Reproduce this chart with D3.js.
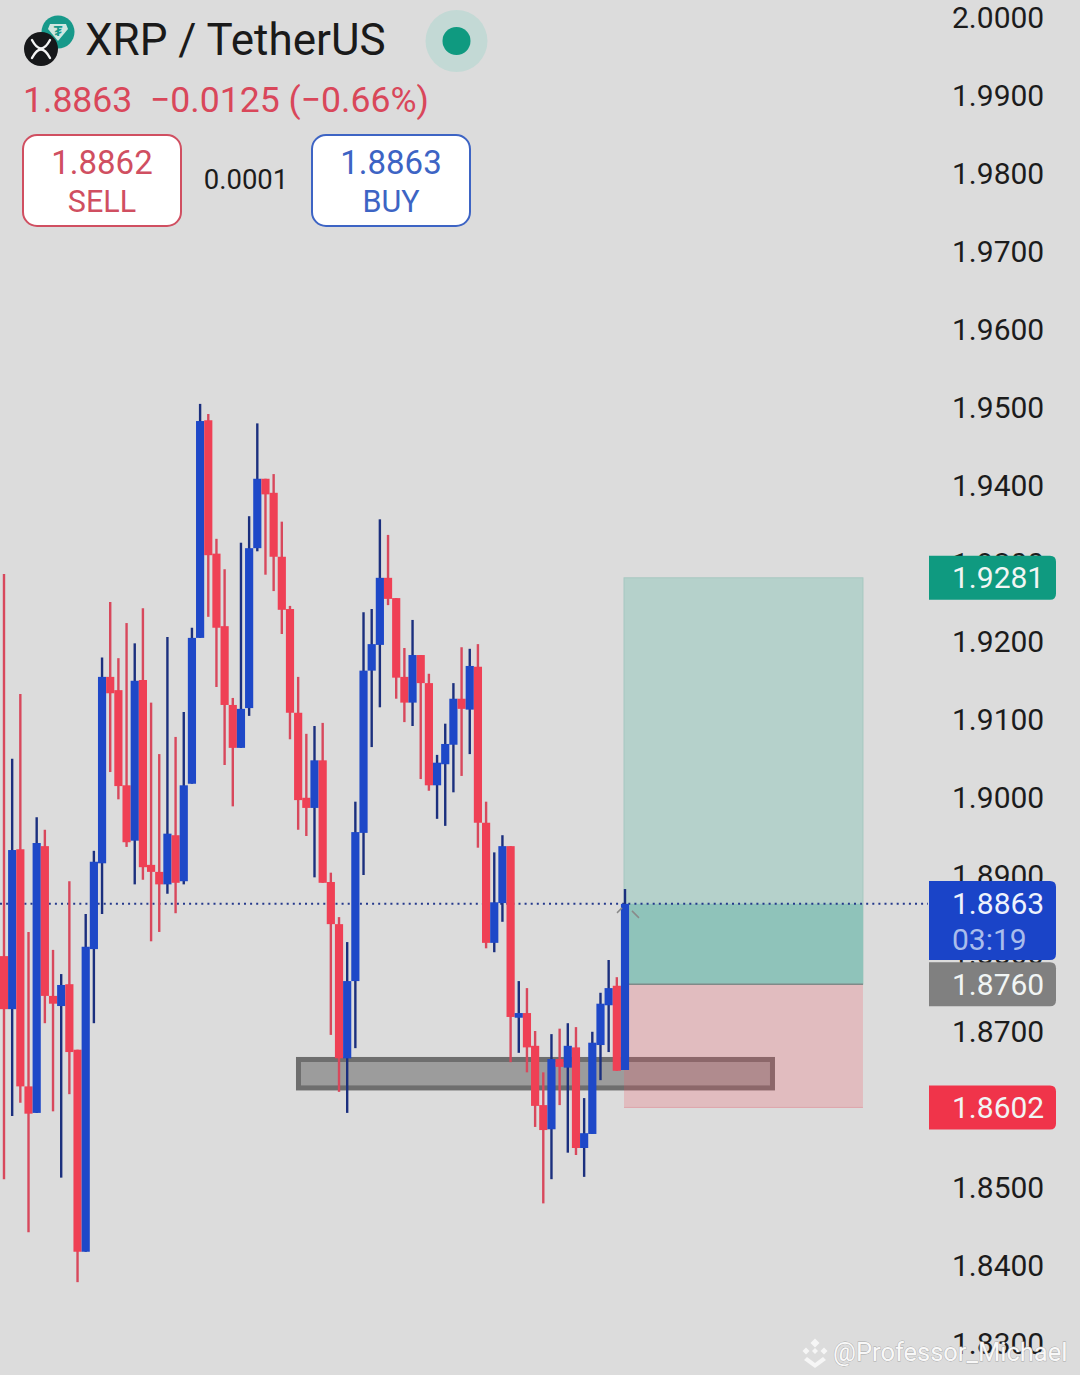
<!DOCTYPE html>
<html><head><meta charset="utf-8">
<script src="https://cdn.jsdelivr.net/npm/d3@7/dist/d3.min.js"></script>
<style>html,body{margin:0;padding:0;background:#dcdcdc}svg{display:block}text{font-family:Roboto,sans-serif}</style>
</head><body><div id="chart"></div>
<script>
const opens=[1.8796,1.8728,1.8933,1.8629,1.8595,1.8937,1.8745,1.8732,1.8760,1.8676,1.8417,1.8805,1.8915,1.9154,1.9137,1.9015,1.8944,1.9150,1.8913,1.8904,1.8888,1.8951,1.8892,1.9017,1.9204,1.9483,1.9312,1.9219,1.9118,1.9063,1.9114,1.9319,1.9408,1.9390,1.9308,1.9241,1.9108,1.8999,1.8986,1.9047,1.8891,1.8837,1.8665,1.8764,1.8954,1.9162,1.9195,1.9281,1.9255,1.9154,1.9121,1.9182,1.9146,1.9015,1.9042,1.9067,1.9126,1.9112,1.9167,1.8967,1.8813,1.8864,1.8937,1.8717,1.8723,1.8681,1.8605,1.8574,1.8664,1.8653,1.8679,1.8550,1.8568,1.8682,1.8733,1.8758,1.8650];
const closes=[1.8728,1.8932,1.8629,1.8594,1.8941,1.8745,1.8735,1.8759,1.8673,1.8417,1.8808,1.8917,1.9154,1.9133,1.9014,1.8942,1.9149,1.8910,1.8904,1.8888,1.8953,1.8890,1.9015,1.9204,1.9482,1.9310,1.9217,1.9118,1.9063,1.9113,1.9319,1.9408,1.9388,1.9308,1.9240,1.9108,1.8996,1.8986,1.9047,1.8890,1.8837,1.8665,1.8764,1.8955,1.9162,1.9196,1.9281,1.9254,1.9153,1.9121,1.9182,1.9146,1.9015,1.9044,1.9068,1.9126,1.9113,1.9168,1.8967,1.8813,1.8865,1.8937,1.8718,1.8723,1.8679,1.8604,1.8573,1.8664,1.8654,1.8681,1.8550,1.8569,1.8685,1.8735,1.8755,1.8649,1.8863];
const highs=[1.9286,1.9049,1.9132,1.8827,1.8974,1.8958,1.8804,1.8773,1.8892,1.8676,1.8850,1.8931,1.9179,1.9250,1.9178,1.9223,1.9197,1.9242,1.9121,1.9055,1.9205,1.9077,1.9109,1.9217,1.9504,1.9491,1.9331,1.9292,1.9127,1.9326,1.9360,1.9479,1.9408,1.9414,1.9353,1.9245,1.9154,1.9081,1.9091,1.9095,1.8903,1.8846,1.8814,1.8994,1.9237,1.9241,1.9356,1.9336,1.9255,1.9191,1.9227,1.9182,1.9158,1.9054,1.9094,1.9146,1.9192,1.9190,1.9196,1.8994,1.8929,1.8951,1.8937,1.8764,1.8755,1.8700,1.8647,1.8696,1.8703,1.8710,1.8705,1.8614,1.8699,1.8749,1.8791,1.8769,1.8882];
const lows=[1.8510,1.8591,1.8608,1.8442,1.8595,1.8710,1.8597,1.8512,1.8619,1.8378,1.8417,1.8710,1.8850,1.9032,1.8997,1.8936,1.8888,1.8894,1.8815,1.8827,1.8876,1.8851,1.8888,1.9017,1.9204,1.9231,1.9141,1.9041,1.8988,1.9063,1.9104,1.9315,1.9285,1.9264,1.9209,1.9074,1.8958,1.8950,1.8897,1.8890,1.8695,1.8622,1.8595,1.8678,1.8900,1.9064,1.9115,1.9246,1.9126,1.9096,1.9091,1.9023,1.9008,1.8972,1.8963,1.9006,1.9027,1.9055,1.8935,1.8806,1.8801,1.8840,1.8660,1.8672,1.8647,1.8577,1.8479,1.8510,1.8605,1.8544,1.8541,1.8513,1.8568,1.8637,1.8673,1.8649,1.8650];
const priceTicks=[2.00,1.99,1.98,1.97,1.96,1.95,1.94,1.93,1.92,1.91,1.90,1.89,1.88,1.87,1.86,1.85,1.84,1.83];
const tags=[{price:1.9281,label:"1.9281",color:"#0f9a80",h:44},{price:1.8760,label:"1.8760",color:"#808080",h:44},{price:1.8602,label:"1.8602",color:"#f0344a",h:44}];
const last=1.8863, entry=1.8760, target=1.9281, stop=1.8602;
const zoneTop=1.86635, zoneBottom=1.86270, zoneFrom=36.04, zoneTo=94.05, boxFrom=76, boxTo=105;

const W=1080,H=1375,tickFont=30;
const svg=d3.select("#chart").append("svg").attr("width",W).attr("height",H);
svg.append("rect").attr("width",W).attr("height",H).attr("fill","#dcdcdc");
const x=d3.scaleLinear().domain([0,76]).range([4,625]);
const y=d3.scaleLinear().domain([1.83,2]).range([1343,17]);

// support zone
svg.append("rect").attr("x",x(zoneFrom)).attr("width",x(zoneTo)-x(zoneFrom))
  .attr("y",y(zoneTop)).attr("height",y(zoneBottom)-y(zoneTop))
  .attr("fill","#9c9c9c").attr("stroke","#6e6e6e").attr("stroke-width",5);

// long position tool
const bx=x(boxFrom)-1,bw=x(boxTo)-x(boxFrom)+2;
svg.append("rect").attr("x",bx).attr("width",bw).attr("y",y(target)).attr("height",y(entry)-y(target)).attr("fill","#b5d1cb").attr("stroke","#a6c8c1").attr("stroke-width",1);
svg.append("rect").attr("x",bx).attr("width",bw).attr("y",y(last)).attr("height",y(entry)-y(last)).attr("fill","#8fc3ba");
svg.append("rect").attr("x",bx).attr("width",bw).attr("y",y(entry)).attr("height",y(stop)-y(entry)).attr("fill","rgb(240,80,96)").attr("fill-opacity",.23);
svg.append("line").attr("x1",bx).attr("x2",bx+bw).attr("y1",y(entry)).attr("y2",y(entry)).attr("stroke","#7f8a88").attr("stroke-width",1.5);
svg.append("line").attr("x1",bx).attr("x2",bx+bw).attr("y1",y(stop)).attr("y2",y(stop)).attr("stroke","#dfa6ad").attr("stroke-width",1);

// last price line
svg.append("line").attr("x1",0).attr("x2",928).attr("y1",y(last)).attr("y2",y(last))
  .attr("stroke","#24398c").attr("stroke-width",2).attr("stroke-dasharray","2 4.1");

// candles
const idx=d3.range(opens.length);
const bodyW=x(1)-x(0);
const up=i=>closes[i]>=opens[i];
const g=svg.append("g");
g.selectAll("line").data(idx).join("line")
  .attr("x1",i=>x(i)).attr("x2",i=>x(i)).attr("y1",i=>y(highs[i])).attr("y2",i=>y(lows[i]))
  .attr("stroke",i=>up(i)?"#1b2f7e":"#d8485c").attr("stroke-width",2.4);
g.selectAll("rect").data(idx).join("rect")
  .attr("x",i=>x(i)-bodyW/2).attr("width",bodyW)
  .attr("y",i=>y(Math.max(opens[i],closes[i])))
  .attr("height",i=>Math.max(1,Math.abs(y(opens[i])-y(closes[i]))))
  .attr("fill",i=>up(i)?"#1e48c8":"#ef4055");

// entry arrow ticks
const ay=y(last);
[[617,ay+9,622,ay+4],[632,ay+7,639,ay+14]].forEach(a=>svg.append("line").attr("x1",a[0]).attr("y1",a[1]).attr("x2",a[2]).attr("y2",a[3]).attr("stroke","#8a8a8a").attr("stroke-width",1.5));

// price axis
const axis=d3.axisRight(y).tickValues(priceTicks).tickFormat(d3.format(".4f")).tickSize(0).tickPadding(0);
const ax=svg.append("g").attr("transform","translate(952,0)").call(axis);
ax.select(".domain").remove();
ax.selectAll("text").attr("font-size",tickFont).attr("fill","#1c1c1c").style("font-family","Roboto,sans-serif").attr("dy","0.35em");

// price tags
function tagShape(t,h,color){
  const x0=929,x1=1056,r=6,y0=t-h/2,y1=t+h/2;
  svg.append("path").attr("fill",color).attr("d",`M${x0},${y0}H${x1-r}Q${x1},${y0} ${x1},${y0+r}V${y1-r}Q${x1},${y1} ${x1-r},${y1}H${x0}Z`);
}
tags.forEach(t=>{
  tagShape(y(t.price),t.h,t.color);
  svg.append("text").attr("x",952).attr("y",y(t.price)).attr("dy","0.35em").attr("font-size",tickFont).attr("fill","#f1f5f4").text(t.label);
});
tagShape(920.5,79,"#1a44c8");
svg.append("text").attr("x",952).attr("y",y(last)).attr("dy","0.35em").attr("font-size",tickFont).attr("fill","#eef2fc").text("1.8863");
svg.append("text").attr("x",952).attr("y",939).attr("dy","0.35em").attr("font-size",tickFont).attr("fill","#a9bdec").text("03:19");

// header icons
svg.append("circle").attr("cx",58).attr("cy",32).attr("r",16.5).attr("fill","#17998a");
svg.append("path").attr("d","M50,24H66L68,29L58,41L48,29Z").attr("fill","#cfe6e0");
svg.append("text").attr("x",58).attr("y",36).attr("text-anchor","middle").attr("font-size",14).attr("font-weight",700).attr("fill","#17998a").text("₮");
svg.append("circle").attr("cx",41).attr("cy",49).attr("r",17).attr("fill","#17181a");
svg.append("path").attr("d","M32,40Q41,57 50,40M32,58Q41,41 50,58").attr("fill","none").attr("stroke","#f4f4f4").attr("stroke-width",2.4).attr("stroke-linecap","round");

// header text
svg.append("text").attr("x",85).attr("y",55).attr("font-size",44).attr("fill","#1a1a1a").text("XRP / TetherUS");
const hr="#d9475a";
svg.append("text").attr("x",23).attr("y",112).attr("font-size",35.6).attr("fill",hr).style("white-space","pre").text("1.8863  −0.0125 (−0.66%)");
svg.append("circle").attr("cx",456.5).attr("cy",41).attr("r",31).attr("fill","#c3d9d5");
svg.append("circle").attr("cx",456.5).attr("cy",41).attr("r",14).attr("fill","#0f9a80");

// sell / buy
function btn(x0,color,price,label){
  svg.append("rect").attr("x",x0).attr("y",135).attr("width",158).attr("height",91).attr("rx",14).attr("fill","#ffffff").attr("stroke",color).attr("stroke-width",2);
  svg.append("text").attr("x",x0+79).attr("y",174).attr("text-anchor","middle").attr("font-size",33).attr("fill",color).text(price);
  svg.append("text").attr("x",x0+79).attr("y",212).attr("text-anchor","middle").attr("font-size",30.5).attr("fill",color).text(label);
}
btn(23,"#d04f61","1.8862","SELL");
btn(312,"#3d64c4","1.8863","BUY");
svg.append("text").attr("x",246).attr("y",189).attr("text-anchor","middle").attr("font-size",27.5).attr("fill","#1c1c1c").text("0.0001");

// watermark
const wm=svg.append("g").attr("fill","#f6f6f6");
[[815,1343,4.5],[806,1351,3.5],[824,1351,3.5],[815,1351,3]].forEach(d=>wm.append("path").attr("d",`M${d[0]},${d[1]-d[2]}l${d[2]},${d[2]}l${-d[2]},${d[2]}l${-d[2]},${-d[2]}Z`));
wm.append("path").attr("d","M807,1357l8,6l8,-6l3,3l-11,8l-11,-8Z");
wm.append("text").attr("x",833).attr("y",1361).attr("font-size",25.5).attr("fill","#f8f8f8").style("paint-order","stroke").attr("stroke","#a8a8a8").attr("stroke-width",.8).text("@Professor_Michael");
</script></body></html>
